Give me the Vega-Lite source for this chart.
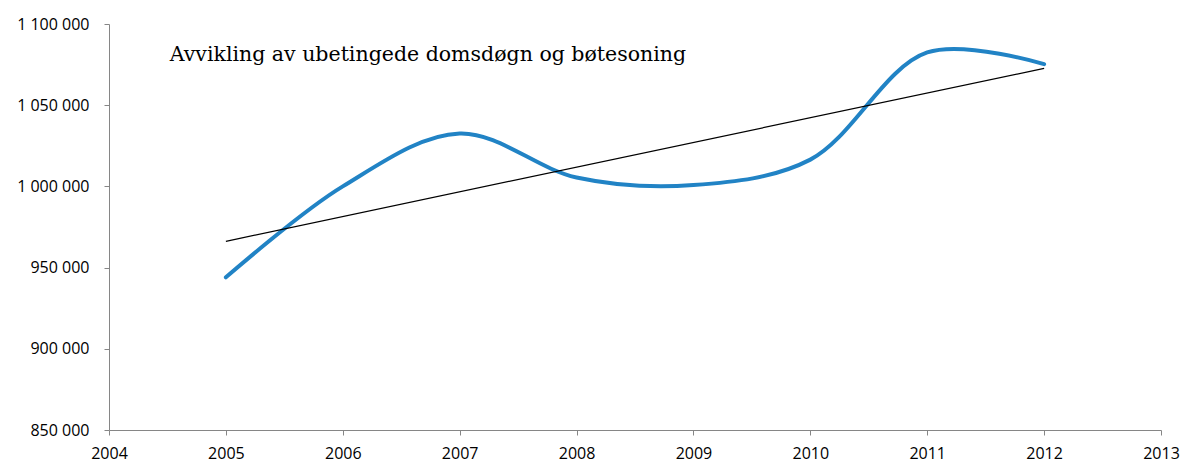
{
  "$schema": "https://vega.github.io/schema/vega-lite/v6.json",
  "width": 1052,
  "height": 406,
  "autosize": {"type": "none"},
  "padding": {"left": 109, "top": 24, "right": 23, "bottom": 34},
  "background": "white",
  "config": {
    "view": {"stroke": null},
    "locale": {"number": {"decimal": ",", "thousands": " ", "grouping": [3], "currency": ["", ""]}},
    "axis": {
      "domainColor": "#868686",
      "tickColor": "#868686",
      "grid": false,
      "labelFont": "Open Sans",
      "labelFontSize": 16,
      "labelColor": "#000000",
      "title": null
    }
  },
  "datasets": {
    "main": [
      {"year": 2005, "value": 944000},
      {"year": 2006, "value": 1000000},
      {"year": 2007, "value": 1032600},
      {"year": 2008, "value": 1005500},
      {"year": 2009, "value": 1000800},
      {"year": 2010, "value": 1016500},
      {"year": 2011, "value": 1082500},
      {"year": 2012, "value": 1075300}
    ],
    "trend": [
      {"year": 2005, "value": 966200},
      {"year": 2012, "value": 1072700}
    ],
    "label": [
      {"year": 2004.52, "value": 1077500, "text": "Avvikling av ubetingede domsdøgn og bøtesoning"}
    ]
  },
  "layer": [
    {
      "data": {"name": "main"},
      "mark": {"type": "line", "interpolate": "catmull-rom", "color": "#2183c5", "strokeWidth": 4, "strokeCap": "round"},
      "encoding": {
        "x": {
          "field": "year", "type": "quantitative",
          "scale": {"domain": [2004, 2013], "nice": false, "zero": false},
          "axis": {"values": [2004, 2005, 2006, 2007, 2008, 2009, 2010, 2011, 2012, 2013], "format": "d", "tickSize": 5, "labelPadding": 10, "labelFlush": false, "labelOverlap": false}
        },
        "y": {
          "field": "value", "type": "quantitative",
          "scale": {"domain": [850000, 1100000], "nice": false, "zero": false},
          "axis": {"values": [850000, 900000, 950000, 1000000, 1050000, 1100000], "format": ",d", "tickSize": 5, "labelPadding": 15, "labelFlush": false, "labelOverlap": false}
        }
      }
    },
    {
      "data": {"name": "trend"},
      "mark": {"type": "line", "color": "#000000", "strokeWidth": 1.2},
      "encoding": {
        "x": {"field": "year", "type": "quantitative"},
        "y": {"field": "value", "type": "quantitative"}
      }
    },
    {
      "data": {"name": "label"},
      "mark": {"type": "text", "font": "DejaVu Serif", "fontSize": 20.5, "align": "left", "baseline": "alphabetic", "color": "#000000"},
      "encoding": {
        "x": {"field": "year", "type": "quantitative"},
        "y": {"field": "value", "type": "quantitative"},
        "text": {"field": "text"}
      }
    }
  ]
}
